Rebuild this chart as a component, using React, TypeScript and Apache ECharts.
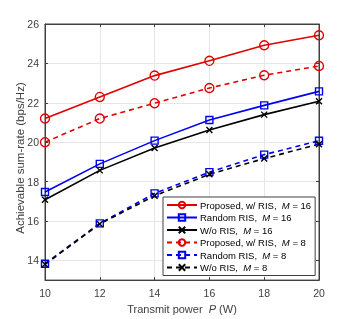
import React, { useEffect, useRef } from "react";
import * as echarts from "echarts";

const powers = [10, 12, 14, 16, 18, 20];
const proposed16 = [21.2, 22.3, 23.38, 24.13, 24.92, 25.43];
const random16 = [17.47, 18.9, 20.08, 21.13, 21.87, 22.58];
const wo16 = [17.08, 18.57, 19.7, 20.62, 21.4, 22.08];
const proposed8 = [20.0, 21.2, 21.98, 22.75, 23.4, 23.87];
const random8 = [13.83, 15.88, 17.4, 18.48, 19.37, 20.07];
const wo8 = [13.8, 15.85, 17.28, 18.37, 19.17, 19.9];
const yTicks = [14, 16, 18, 20, 22, 24, 26];
const names = [
  "Proposed, w/ RIS,  {i|M} = 16",
  "Random RIS,  {i|M} = 16",
  "W/o RIS,  {i|M} = 16",
  "Proposed, w/ RIS,  {i|M} = 8",
  "Random RIS,  {i|M} = 8",
  "W/o RIS,  {i|M} = 8",
];
const yTitle = "Achievable sum-rate (bps/Hz)";

const FONT = "Liberation Sans, Arial, Helvetica, sans-serif";
const AX = "#404040";
const RED = "#e00000";
const BLUE = "#0000f0";
const BLACK = "#000000";
const XSYM = "path://M0,0L10,10M10,0L0,10";

export default function App() {
  const ref = useRef<HTMLDivElement>(null);
  useEffect(() => {
    const chart = echarts.init(ref.current!, null, { renderer: "svg" });
    const mk = (
      name: string,
      data: number[],
      color: string,
      symbol: string,
      size: number,
      dashed: boolean
    ) => ({
      name,
      type: "line",
      data: powers.map((p, i) => [p, data[i]]),
      symbol,
      symbolSize: size,
      showSymbol: true,
      lineStyle: { color, width: 1.6, type: dashed ? [5, 4] : "solid" },
      itemStyle: { color: "rgba(0,0,0,0)", borderColor: color, borderWidth: 1.4 },
      z: 3,
    });
    const axisCommon = {
      axisLine: { show: true, lineStyle: { color: AX, width: 1 } },
      axisTick: { show: true, inside: true, length: 3, lineStyle: { color: AX } },
    };
    chart.setOption({
      animation: false,
      textStyle: { fontFamily: FONT },
      grid: { left: 45, right: 34, top: 24, bottom: 35, show: true, borderColor: AX, borderWidth: 1, backgroundColor: "#fff" },
      graphic: [
        {
          type: "text",
          x: 20,
          y: 158,
          rotation: Math.PI / 2,
          style: {
            text: yTitle,
            x: 0,
            y: 0,
            align: "center",
            verticalAlign: "middle",
            fontSize: 11.5,
            fontFamily: FONT,
            fill: AX,
          },
        },
      ],
      legend: {
        orient: "vertical",
        left: 163,
        top: 197,
        width: 153,
        padding: [3, 4, 3, 3],
        itemWidth: 30,
        itemHeight: 8,
        itemGap: 2.5,
        backgroundColor: "#fff",
        borderColor: AX,
        borderWidth: 1,
        borderRadius: 0,
        data: names,
        formatter: (n: string) => n,
        textStyle: {
          fontFamily: FONT,
          fontSize: 9.5,
          color: "#000",
          padding: [0, 0, 0, -2],
          rich: { i: { fontStyle: "italic", fontSize: 9.5, fontFamily: FONT, color: "#000" } },
        },
      },
      xAxis: [
        {
          type: "value",
          min: 10,
          max: 20,
          interval: 2,
          ...axisCommon,
          axisLabel: { color: AX, fontSize: 10.5, margin: 7, fontFamily: FONT },
          splitLine: { show: true, lineStyle: { color: "#e6e6e6", width: 1 } },
          name: "Transmit power  {i|P} (W)",
          nameLocation: "middle",
          nameGap: 20,
          nameTextStyle: {
            color: AX,
            fontSize: 11,
            fontFamily: FONT,
            rich: { i: { fontStyle: "italic", fontSize: 11, color: AX, fontFamily: FONT } },
          },
        },
        {
          type: "value",
          position: "top",
          min: 10,
          max: 20,
          interval: 2,
          ...axisCommon,
          axisLabel: { show: false },
          splitLine: { show: false },
        },
      ],
      yAxis: [
        {
          type: "value",
          min: 13,
          max: 26,
          ...axisCommon,
          axisTick: { ...axisCommon.axisTick, customValues: yTicks },
          axisLabel: { color: AX, fontSize: 10.5, margin: 6, fontFamily: FONT, customValues: yTicks },
          splitLine: { show: true, lineStyle: { color: "#e6e6e6", width: 1 } },
        },
        {
          type: "value",
          position: "right",
          min: 13,
          max: 26,
          ...axisCommon,
          axisTick: { ...axisCommon.axisTick, customValues: yTicks },
          axisLabel: { show: false, customValues: yTicks },
          splitLine: { show: false },
        },
      ],
      series: [
        mk(names[0], proposed16, RED, "circle", 9, false),
        mk(names[1], random16, BLUE, "rect", 7, false),
        mk(names[2], wo16, BLACK, XSYM, 6, false),
        mk(names[3], proposed8, RED, "circle", 9, true),
        mk(names[4], random8, BLUE, "rect", 7, true),
        mk(names[5], wo8, BLACK, XSYM, 6, true),
      ],
    });
    return () => chart.dispose();
  }, []);
  return <div ref={ref} style={{ position: "fixed", left: 0, top: 0, width: 353, height: 319 }} />;
}
